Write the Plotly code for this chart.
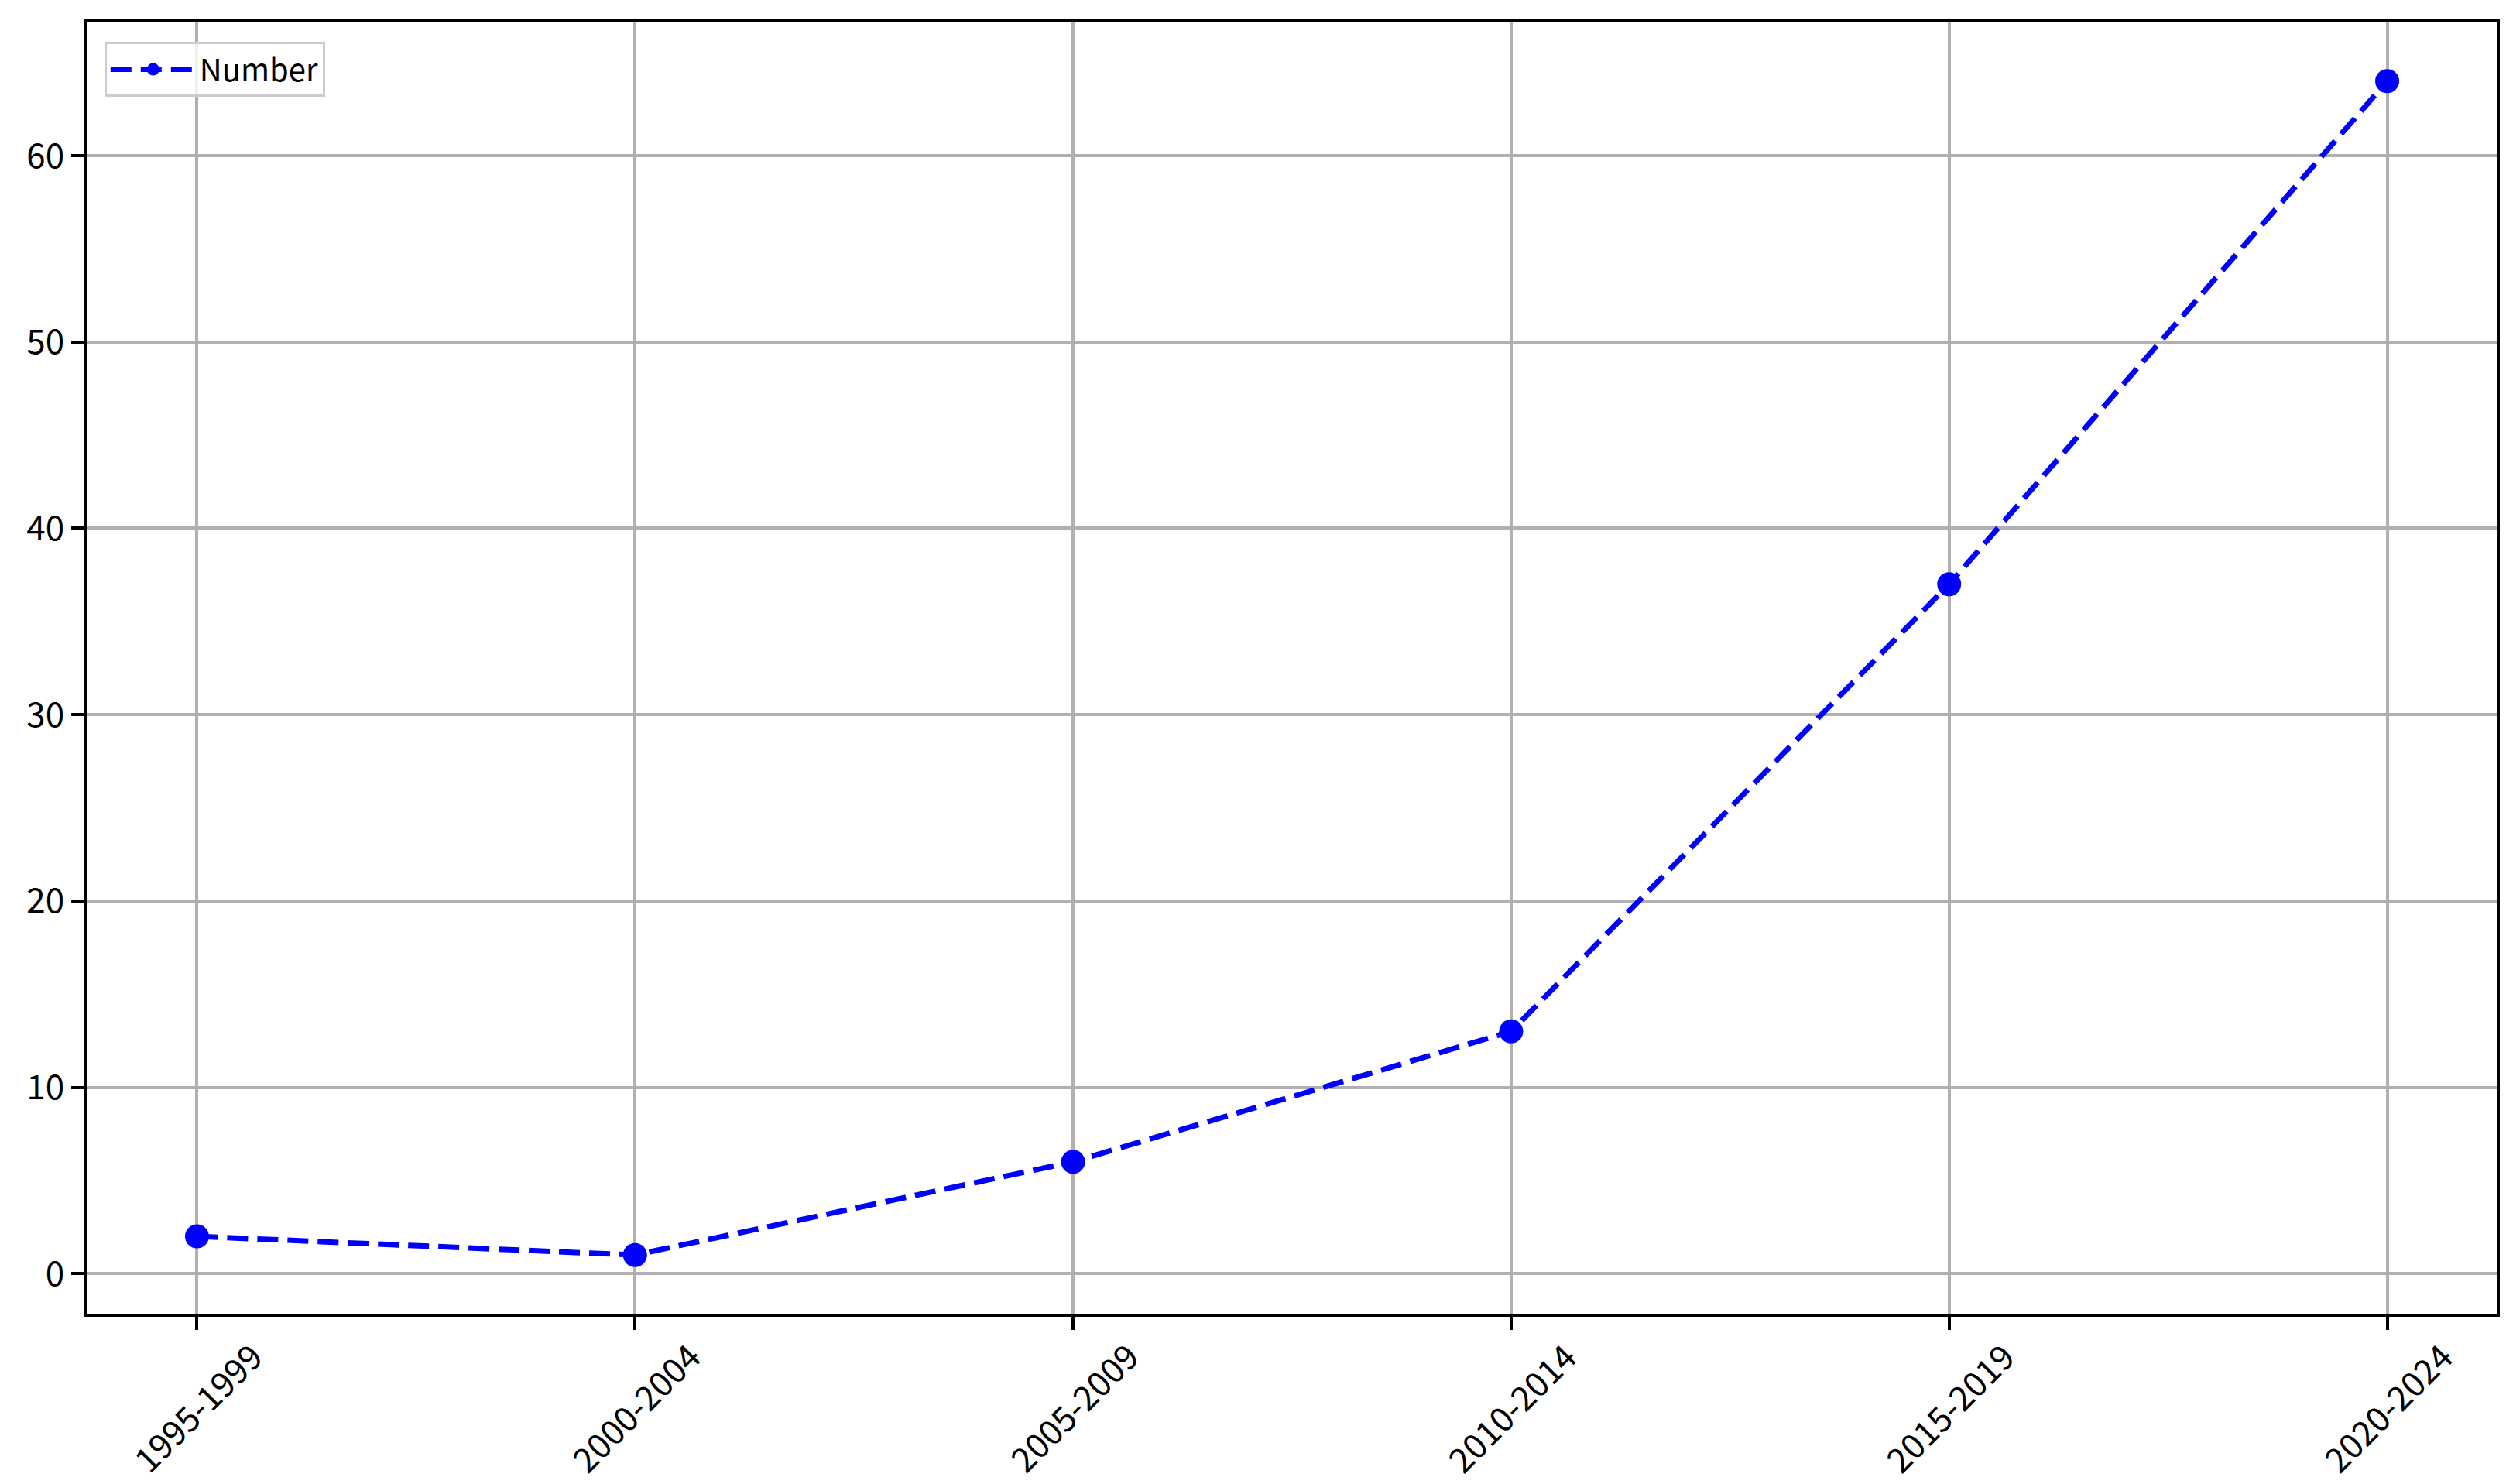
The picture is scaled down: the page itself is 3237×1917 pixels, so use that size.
import plotly.graph_objects as go

periods = ["1995-1999", "2000-2004", "2005-2009", "2010-2014", "2015-2019", "2020-2024"]
numbers = [2, 1, 6, 13, 37, 64]
y_ticks = [0, 10, 20, 30, 40, 50, 60]

FONT = "Noto Sans CJK SC, SimHei, sans-serif"

fig = go.Figure()
fig.add_trace(
    go.Scatter(
        x=periods,
        y=numbers,
        mode="lines+markers",
        name="Number",
        line=dict(color="#0000ff", width=7, dash="27px,12px"),
        marker=dict(color="#0000ff", size=31),
    )
)

# rotated x labels, centred under each tick like matplotlib's ha="center"
for p in periods:
    fig.add_annotation(
        x=p, y=-0.072, xref="x", yref="paper",
        text=p, textangle=-45, showarrow=False,
        xanchor="center", yanchor="middle",
        font=dict(family=FONT, size=44, color="#000000"),
    )

axis_common = dict(
    showline=True, linecolor="#000000", linewidth=4, mirror=True,
    showgrid=True, gridcolor="#b0b0b0", gridwidth=3.5,
    ticks="outside", ticklen=17, tickwidth=4, tickcolor="#000000",
    zeroline=False,
    tickfont=dict(family=FONT, size=44, color="#000000"),
)

fig.update_xaxes(
    **axis_common,
    type="category",
    range=[-0.25, 5.25],
    showticklabels=False,
)
fig.update_yaxes(
    **axis_common,
    range=[-2.15, 67.15],
    tickvals=y_ticks,
)

fig.update_layout(
    width=3237,
    height=1917,
    margin=dict(l=105, r=20, t=21, b=228),
    paper_bgcolor="white",
    plot_bgcolor="white",
    showlegend=True,
    legend=dict(
        x=0.007, y=0.985, xanchor="left", yanchor="top",
        bgcolor="rgba(255,255,255,0.8)",
        bordercolor="#cccccc", borderwidth=3,
        font=dict(family=FONT, size=40, color="#000000"),
        itemwidth=110,
    ),
)

fig.write_html("out.html")
